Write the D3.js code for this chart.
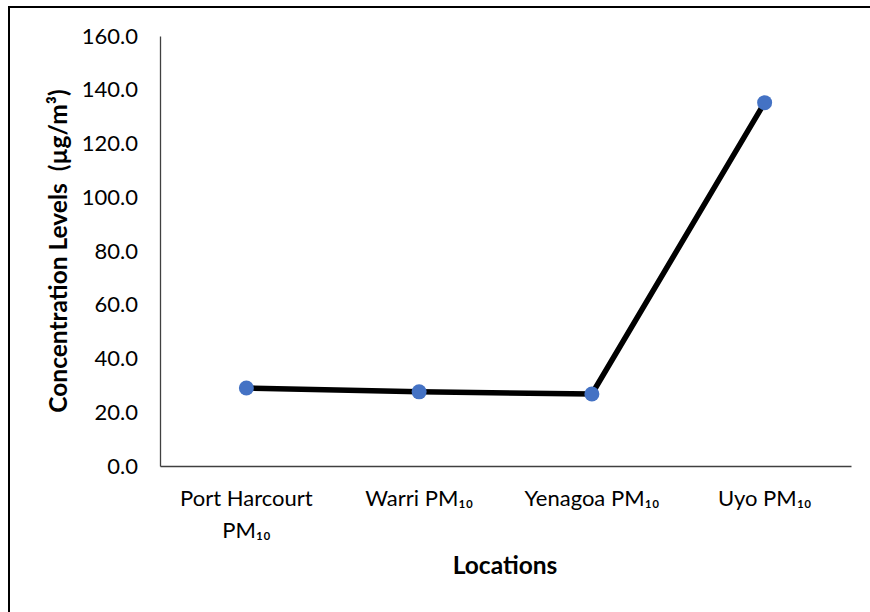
<!DOCTYPE html>
<html><head><meta charset="utf-8">
<script src="https://cdn.jsdelivr.net/npm/d3@7"></script>
<style>body{margin:0;background:#fff}svg{display:block}text{white-space:pre}</style>
</head><body><svg id="c" width="870" height="612"></svg>
<script>
const categories = ["Port Harcourt PM₁₀", "Warri PM₁₀", "Yenagoa PM₁₀", "Uyo PM₁₀"];
const labelLines = [["Port Harcourt", "PM₁₀"], ["Warri PM₁₀"], ["Yenagoa PM₁₀"], ["Uyo PM₁₀"]];
const values = [29.0, 27.6, 26.8, 135.2];
const yTicks = [0, 20, 40, 60, 80, 100, 120, 140, 160];
const yTitle = "Concentration Levels  (µg/m³)";
const xTitle = "Locations";

(function () {
const font = "Lato, 'Noto Sans', sans-serif";
const svg = d3.select("#c");
svg.append("rect").attr("x", 9).attr("y", 7).attr("width", 880).attr("height", 620)
  .attr("fill", "none").attr("stroke", "#000").attr("stroke-width", 2);

const mL = 160, mR = 851, mT = 36, mB = 466;
const x = d3.scaleBand().domain(categories).range([mL, mR]);
const y = d3.scaleLinear().domain([0, 160]).range([mB, mT]);

const ya = svg.append("g").attr("transform", `translate(${mL},0)`)
  .call(d3.axisLeft(y).tickValues(yTicks).tickSize(0).tickPadding(22).tickFormat(d3.format(".1f")));
ya.select(".domain").attr("stroke", "#404040").attr("stroke-width", 1.3);
ya.selectAll("text").attr("font-family", font).attr("font-size", 22).attr("fill", "#000");

const xa = svg.append("g").attr("transform", `translate(0,${mB})`)
  .call(d3.axisBottom(x).tickSize(0).tickFormat(""));
xa.select(".domain").attr("stroke", "#404040").attr("stroke-width", 1.3);
xa.selectAll(".tick").each(function (d, i) {
  const t = d3.select(this).append("text").attr("fill", "#000").attr("font-family", font)
    .attr("font-size", 22).attr("text-anchor", "middle");
  labelLines[i].forEach((ln, j) => {
    t.append("tspan").attr("x", 0).attr("y", 40 + j * 32).text(ln);
  });
});

const line = d3.line().x((d, i) => x(categories[i]) + x.bandwidth() / 2).y(d => y(d));
svg.append("path").datum(values).attr("d", line).attr("fill", "none")
  .attr("stroke", "#000").attr("stroke-width", 5.5).attr("stroke-linejoin", "round");
svg.selectAll("circle.pt").data(values).join("circle").attr("class", "pt")
  .attr("cx", (d, i) => x(categories[i]) + x.bandwidth() / 2).attr("cy", d => y(d))
  .attr("r", 7.5).attr("fill", "#4472C4");

svg.append("text").attr("transform", `translate(67,${(mT + mB) / 2}) rotate(-90)`)
  .attr("text-anchor", "middle").attr("font-family", font).attr("font-weight", "bold")
  .attr("font-size", 24.5).text(yTitle);
svg.append("text").attr("x", 505).attr("y", 574).attr("text-anchor", "middle")
  .attr("font-family", font).attr("font-weight", "bold").attr("font-size", 24.5).text(xTitle);
})();
</script></body></html>
